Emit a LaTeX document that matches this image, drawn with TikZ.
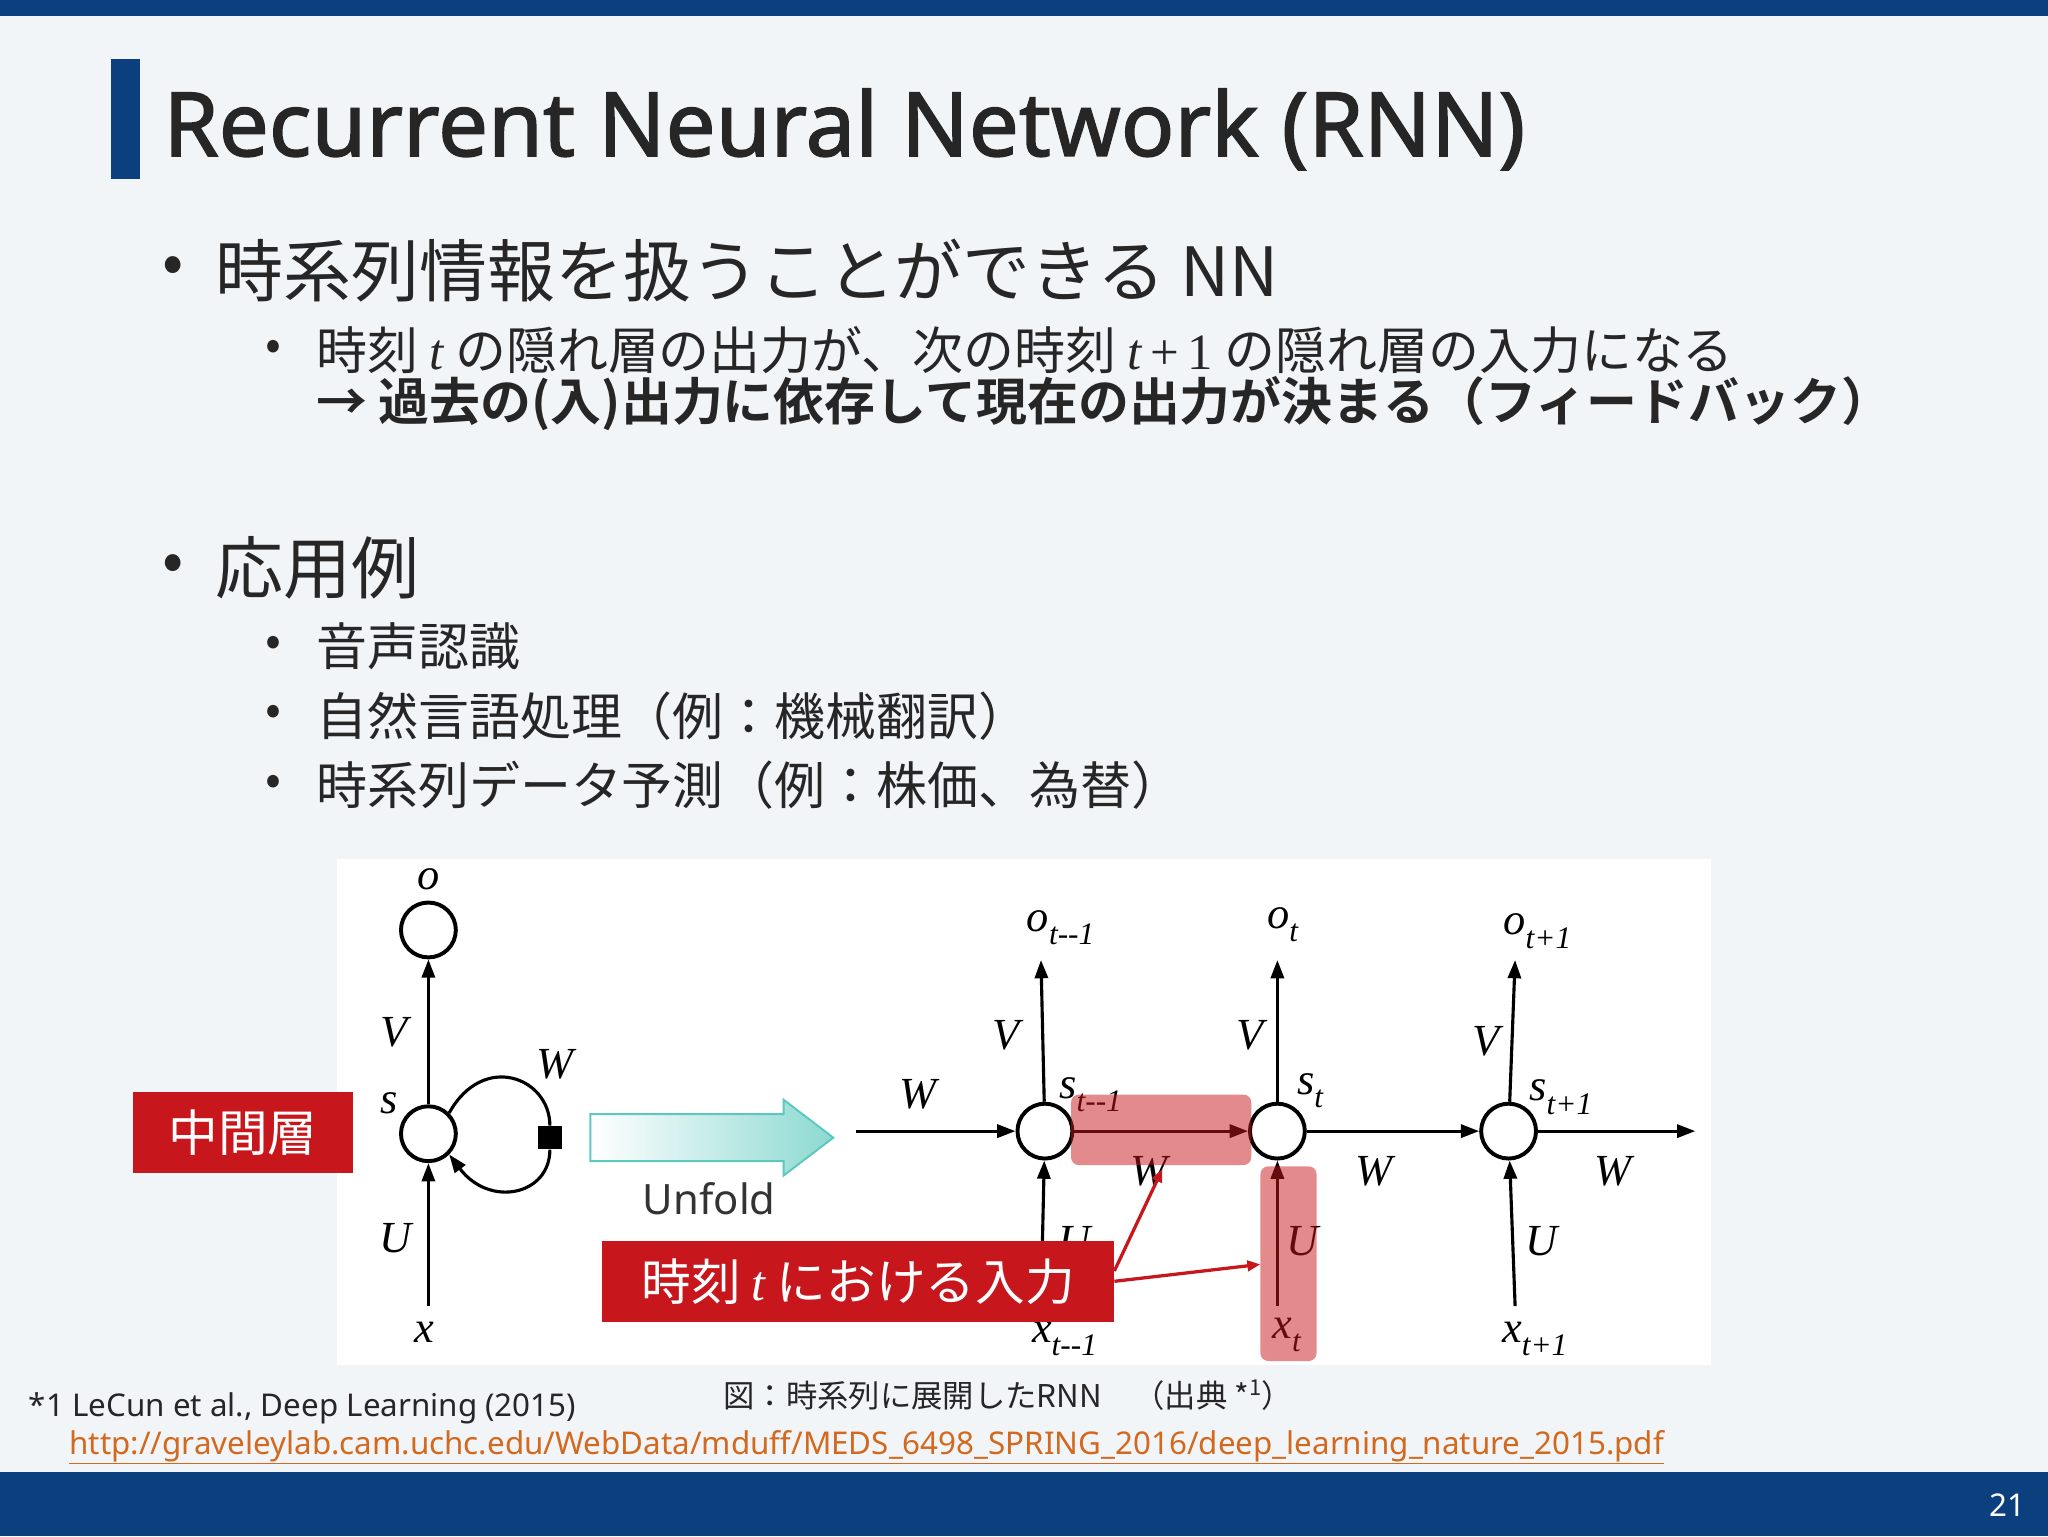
\documentclass[tikz,border=0pt]{standalone}
\usepackage{fontspec}
\setmainfont{Noto Sans}
\newfontfamily\tfont{Noto Sans}[AutoFakeBold=1.6]
\newfontfamily\jp{Noto Sans CJK JP}
\newfontfamily\jpb{Noto Sans CJK JP Bold}
\newfontfamily\fs{Liberation Serif}
\newcommand{\ti}{{\fs\itshape t}}
\newcommand{\sbs}[1]{\raisebox{-0.3em}{\fontsize{24}{26}\selectfont #1}}
\usetikzlibrary{arrows.meta}
\definecolor{navy}{HTML}{0B3F7E}
\definecolor{bg}{HTML}{F2F5F8}
\definecolor{rbox}{HTML}{C8161D}
\definecolor{teal2}{HTML}{5CC9BE}
\definecolor{link}{HTML}{D2691E}
\begin{document}
\begin{tikzpicture}[x=1pt,y=-1pt,
  txt/.style={anchor=west,inner sep=0pt,text=black!85},
  lab/.style={inner sep=0pt,font=\fs\itshape\fontsize{34}{36}\selectfont},
  cir/.style={circle,draw,line width=3pt,minimum size=42pt,inner sep=0pt},
  ar/.style={-{Triangle[length=14pt,width=10pt]},line width=2.4pt},
  redlab/.style={fill=rbox,text=white,inner sep=0pt,font=\jp\fontsize{38}{40}\selectfont}]
\useasboundingbox (0,0) rectangle (1568,1176);
\fill[bg] (0,0) rectangle (1568,1176);
\fill[navy] (0,0) rectangle (1568,12);
\fill[navy] (0,1127) rectangle (1568,1176);
\node[text=white,font=\fontsize{24}{26}\selectfont] (pg) at (1537,1152) {21};
\fill[navy] (85,45) rectangle (107,137);
\node[txt,font=\tfont\bfseries\fontsize{68}{70}\selectfont] (title) at (125,99) {Recurrent Neural Network (RNN)};
% bullets
\node[txt,font=\jp\fontsize{48}{50}\selectfont] (b1d) at (124,207) {•};
\node[txt,font=\jp\fontsize{52}{54}\selectfont] (b1) at (165,207) {時系列情報を扱うことができる NN};
\node[txt,font=\jp\fontsize{36}{38}\selectfont] (s1d) at (203,268) {•};
\node[txt,font=\jp\fontsize{39}{41}\selectfont] (s1) at (242,268) {時刻 \ti\ の隠れ層の出力が、次の時刻 {\fs\ti\,+\,1} の隠れ層の入力になる};
\node[txt,font=\jpb\fontsize{39}{41}\selectfont] (s2) at (242,309) {→ 過去の(入)出力に依存して現在の出力が決まる（フィードバック）};
\node[txt,font=\jp\fontsize{48}{50}\selectfont] (b2d) at (124,435) {•};
\node[txt,font=\jp\fontsize{52}{54}\selectfont] (b2) at (165,435) {応用例};
\foreach \yy/\tt [count=\i] in {495/音声認識,548/自然言語処理（例：機械翻訳）,601/時系列データ予測（例：株価、為替）}{
  \node[txt,font=\jp\fontsize{36}{38}\selectfont] (a\i d) at (203,\yy) {•};
  \node[txt,font=\jp\fontsize{39}{41}\selectfont] (a\i) at (242,\yy) {\tt};
}
% figure
\fill[white] (258,658) rectangle (1310,1045);
% left rnn
\node[cir] (o) at (328,712) {};
\node[cir] (s) at (328,868) {};
\node[lab] (ol) at (328,673) {o};
\node[lab] (sl) at (298,845) {s};
\node[lab] (xl) at (325,1020) {x};
\node[lab] (Vl) at (302,790) {V};
\node[lab] (Ul) at (303,948) {U};
\node[lab] (Wl) at (425,815) {W};
\draw[ar] (s) -- (o);
\coordinate (xb) at (328,1000);
\draw[ar] (xb) -- (s);
\node[fill=black,minimum size=18pt,inner sep=0pt] (sq) at (421,871) {};
\draw[line width=2.4pt] (s.north east) .. controls (370,805) and (421,825) .. (sq.north);
\draw[ar] (sq.south) .. controls (421,915) and (375,925) .. (s.south east);
% unfold arrow
\shade[left color=white,right color=teal2!70,draw=teal2,line width=1.5pt] (452,853) -- (600,853) -- (600,842) -- (638,871) -- (600,900) -- (600,889) -- (452,889) -- cycle;
\node[font=\fontsize{32}{34}\selectfont,text=black!80] (unf) at (543,918) {Unfold};
% unrolled
\node[cir] (c1) at (800,866) {};
\node[cir] (c2) at (978,866) {};
\node[cir] (c3) at (1155,866) {};
\foreach \c/\xx in {1/797,2/978,3/1160}{
  \coordinate (t\c) at (\xx,735);
  \coordinate (b\c) at (\xx,1000);
  \draw[ar] (c\c) -- (t\c);
  \draw[ar] (b\c) -- (c\c);
}
\node[lab] (o1) at (812,710) {o\sbs{t--1}};
\node[lab] (o2) at (982,708) {o\sbs{t}};
\node[lab] (o3) at (1177,713) {o\sbs{t+1}};
\node[lab] (s1l) at (835,838) {s\sbs{t--1}};
\node[lab] (s2l) at (1003,835) {s\sbs{t}};
\node[lab] (s3l) at (1195,840) {s\sbs{t+1}};
\node[lab] (x1) at (815,1025) {x\sbs{t--1}};
\node[lab] (x2) at (985,1022) {x\sbs{t}};
\node[lab] (x3) at (1175,1025) {x\sbs{t+1}};
\node[lab] (V1) at (770,793) {V};
\node[lab] (V2) at (957,793) {V};
\node[lab] (V3) at (1138,797) {V};
\node[lab] (U1) at (823,950) {U};
\node[lab] (U2) at (997,950) {U};
\node[lab] (U3) at (1180,950) {U};
\node[lab] (W0) at (703,838) {W};
\node[lab] (W1) at (880,897) {W};
\node[lab] (W2) at (1052,897) {W};
\node[lab] (W3) at (1235,897) {W};
\coordinate (w0) at (655,866);
\coordinate (w3) at (1298,866);
\draw[ar] (w0) -- (c1);
\draw[ar] (c1) -- (c2);
\draw[ar] (c2) -- (c3);
\draw[ar] (c3) -- (w3);
% highlights
\fill[rbox,opacity=0.5,rounded corners=6pt] (820,838) rectangle (958,892);
\fill[rbox,opacity=0.5,rounded corners=6pt] (965,893) rectangle (1008,1042);
% red labels
\node[redlab,minimum width=168pt,minimum height=62pt] (mid) at (186,867) {中間層};
\node[redlab,minimum width=392pt,minimum height=62pt] (inp) at (657,981) {時刻 {\fs\itshape t} における入力};
\coordinate (p1) at (890,895);
\coordinate (p2) at (965,968);
\draw[rbox,line width=2.5pt,-{Triangle[length=10pt,width=8pt]}] (inp.east) ++(0,-8) -- (p1);
\draw[rbox,line width=2.5pt,-{Triangle[length=10pt,width=8pt]}] (inp.east) -- (p2);
% caption
\node[font=\jp\fontsize{24}{26}\selectfont,text=black!85] (cap) at (772,1068) {図：時系列に展開したRNN　（出典 *\textsuperscript{1}）};
\node[txt,font=\fontsize{24}{26}\selectfont] (fn) at (22,1078) {*1 LeCun et al., Deep Learning (2015)};
\node[txt,font=\fontsize{24}{26}\selectfont,text=link] (url) at (53,1108) {\underline{http://graveleylab.cam.uchc.edu/WebData/mduff/MEDS\_6498\_SPRING\_2016/deep\_learning\_nature\_2015.pdf}};
\end{tikzpicture}
\end{document}
